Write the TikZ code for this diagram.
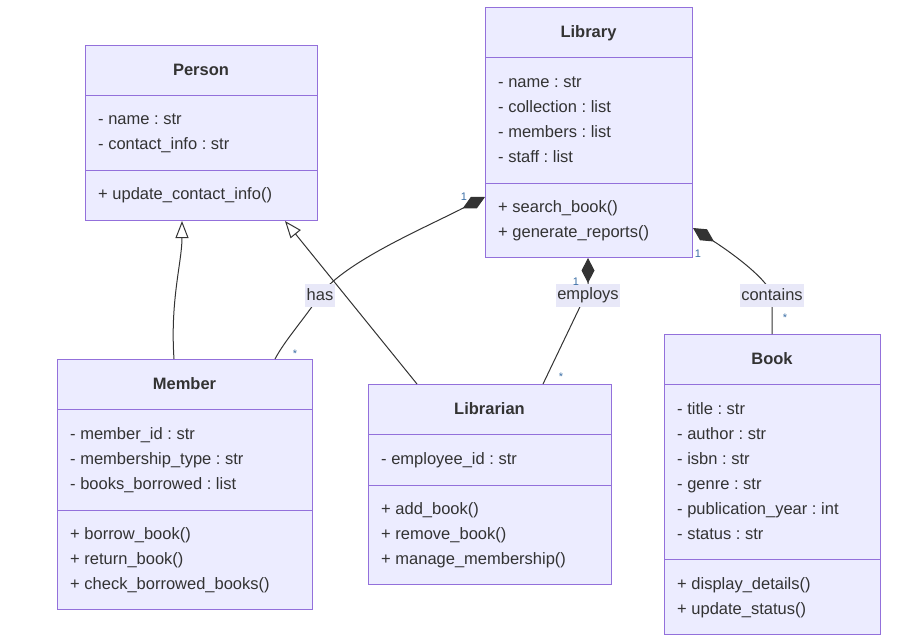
\documentclass[tikz,border=0pt]{standalone}
\usepackage{fontspec}
\setmainfont{Liberation Sans}
\usetikzlibrary{arrows.meta}
\frenchspacing
\definecolor{boxfill}{HTML}{ECECFF}
\definecolor{boxline}{HTML}{9370DB}
\definecolor{txt}{HTML}{333333}
\definecolor{lblbg}{HTML}{E8E8F8}
\definecolor{mult}{HTML}{3A6EA5}
\begin{document}
\begin{tikzpicture}[x=1pt,y=-1pt,
  umlbox/.style={draw=boxline, fill=boxfill, line width=1pt, inner sep=0pt, anchor=north west},
  divider/.style={draw=boxline, line width=1pt},
  title/.style={anchor=base, inner sep=0pt, text=txt, font=\fontsize{16.5}{19}\selectfont\bfseries},
  attr/.style={anchor=base west, inner sep=0pt, text=txt, font=\fontsize{16.5}{19}\selectfont},
  edge/.style={draw=txt, line width=1pt},
  inh/.style={edge, -{Triangle[length=17pt,width=13pt,fill=white,line width=1pt]}},
  comp/.style={edge, {Diamond[length=25pt,width=13pt,fill=txt]}-},
  elabel/.style={fill=lblbg, inner xsep=1.5pt, inner ysep=2pt, text=txt, font=\fontsize{16.5}{19}\selectfont, minimum height=23pt},
  multl/.style={inner sep=0pt, text=mult, font=\fontsize{11}{12}\selectfont}
]
\useasboundingbox (0,0) rectangle (910,643);

\coordinate (hasL) at (320,295);
\coordinate (empL) at (588,295);
\coordinate (conL) at (772,295);

% ---------- Person ----------
\node[umlbox, minimum width=232pt, minimum height=175pt] (person) at (85,45) {};
\draw[divider] (85,95) -- (317,95);
\draw[divider] (85,170) -- (317,170);
\node[title] (pt) at (201,75) {Person};
\node[attr] (pa1) at (98,124.5) {- name : str};
\node[attr] (pa2) at (98,149.5) {- contact\_info : str};
\node[attr] (pm1) at (98,199.5) {+ update\_contact\_info()};

% ---------- Library ----------
\node[umlbox, minimum width=207pt, minimum height=250pt] (library) at (485,7) {};
\draw[divider] (485,57) -- (692,57);
\draw[divider] (485,183) -- (692,183);
\node[title] (lt) at (588.5,37.5) {Library};
\node[attr] (la1) at (498,87.5) {- name : str};
\node[attr] (la2) at (498,112.5) {- collection : list};
\node[attr] (la3) at (498,137.5) {- members : list};
\node[attr] (la4) at (498,162.5) {- staff : list};
\node[attr] (lm1) at (498,212.5) {+ search\_book()};
\node[attr] (lm2) at (498,237.5) {+ generate\_reports()};

% ---------- Member ----------
\node[umlbox, minimum width=255pt, minimum height=250pt] (member) at (57,359) {};
\draw[divider] (57,409) -- (312,409);
\draw[divider] (57,510) -- (312,510);
\node[title] (mt) at (184.5,389.5) {Member};
\node[attr] (ma1) at (70,439.5) {- member\_id : str};
\node[attr] (ma2) at (70,464.5) {- membership\_type : str};
\node[attr] (ma3) at (70,489.5) {- books\_borrowed : list};
\node[attr] (mm1) at (70,539.5) {+ borrow\_book()};
\node[attr] (mm2) at (70,564.5) {+ return\_book()};
\node[attr] (mm3) at (70,589.5) {+ check\_borrowed\_books()};

% ---------- Librarian ----------
\node[umlbox, minimum width=243pt, minimum height=200pt] (librarian) at (368,384) {};
\draw[divider] (368,434) -- (611,434);
\draw[divider] (368,485) -- (611,485);
\node[title] (brt) at (489.5,414.5) {Librarian};
\node[attr] (bra1) at (381,464.5) {- employee\_id : str};
\node[attr] (brm1) at (381,514.5) {+ add\_book()};
\node[attr] (brm2) at (381,539.5) {+ remove\_book()};
\node[attr] (brm3) at (381,564.5) {+ manage\_membership()};

% ---------- Book ----------
\node[umlbox, minimum width=216pt, minimum height=300pt] (book) at (664,334) {};
\draw[divider] (664,384) -- (880,384);
\draw[divider] (664,559) -- (880,559);
\node[title] (bt) at (772,364.5) {Book};
\node[attr] (ba1) at (677,414.5) {- title : str};
\node[attr] (ba2) at (677,439.5) {- author : str};
\node[attr] (ba3) at (677,464.5) {- isbn : str};
\node[attr] (ba4) at (677,489.5) {- genre : str};
\node[attr] (ba5) at (677,514.5) {- publication\_year : int};
\node[attr] (ba6) at (677,539.5) {- status : str};
\node[attr] (bm1) at (677,589.5) {+ display\_details()};
\node[attr] (bm2) at (677,614.5) {+ update\_status()};

% ---------- Connectors ----------
\draw[inh] (member.north -| 174,0) .. controls (170,300) and (182,262) .. (person.south -| 182,0);
\draw[inh] (librarian.north -| 417,0) -- (person.south -| 285,0);

\draw[comp] (library.west |- 0,197) .. controls (420,230) and (345,262) .. (hasL)
  .. controls (305,318) and (285,340) .. (member.north -| 275,0);
\draw[comp] (library.south -| 588,0) -- (588,290) -- (librarian.north -| 543,0);
\draw[comp] (library.east |- 0,228) .. controls (735,255) and (768,280) .. (conL)
  -- (772,312) .. controls (772,322) .. (book.north -| 772,0);

\node[elabel] (hasN) at (hasL) {has};
\node[elabel] (empN) at (empL) {employs};
\node[elabel] (conN) at (conL) {contains};

\node[multl] (m1) at (464,197) {1};
\node[multl] (m2) at (295,354) {*};
\node[multl] (m3) at (576,282) {1};
\node[multl] (m4) at (561,377) {*};
\node[multl] (m5) at (698,254) {1};
\node[multl] (m6) at (785,318) {*};
\end{tikzpicture}
\end{document}
